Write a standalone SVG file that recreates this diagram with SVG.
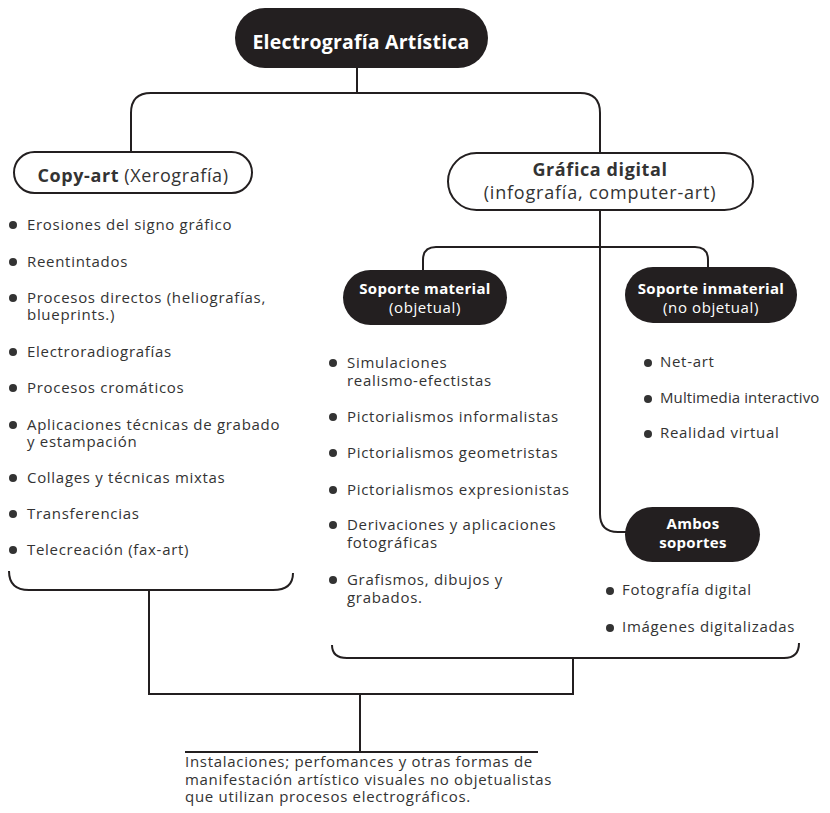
<svg xmlns="http://www.w3.org/2000/svg" width="830" height="813" viewBox="0 0 830 813">
<style>
text{font-family:"Open Sans","Liberation Sans",sans-serif;}
.t{font-size:15px;fill:#333;letter-spacing:0.7px;}
.b{fill:#333;}
.dark{fill:#231f20;}
.light{fill:#fff;stroke:#231f20;stroke-width:2;}
.wb{fill:#fff;font-weight:700;}
.w{fill:#fff;}
.k{fill:#333;}
.kb{fill:#333;font-weight:700;}
.c{fill:none;stroke:#231f20;stroke-width:2;}
</style>
<rect width="830" height="813" fill="#fff"/>
<g id="connectors">
<path class="c" d="M357,68 V93"/>
<path class="c" d="M131,152 V113 Q131,93 151,93 H580 Q600,93 600,113 V153"/>
<path class="c" d="M600,210 V514 Q600,532 618,532 H626"/>
<path class="c" d="M423,270 V260 Q423,247 436,247 H695 Q708,247 708,260 V267"/>
<path class="c" d="M9,571 Q9,590 29,590 H273 Q293,590 293,573"/>
<path class="c" d="M149,590 V694 H573 V658"/>
<path class="c" d="M332,645 Q332,658 347,658 H784 Q799,658 799,643"/>
<path class="c" d="M360,694 V752"/>
<path class="c" d="M185,752 H538"/>
</g>
<g id="root">
<rect class="dark" x="235" y="8" width="253" height="60" rx="30"/>
<text class="wb" x="361" y="49" font-size="19.5" text-anchor="middle" letter-spacing="0.2">Electrografía Artística</text>
</g>
<g id="copyart">
<rect class="light" x="14" y="152" width="238" height="41" rx="20.5"/>
<text x="133" y="182" font-size="18" text-anchor="middle" letter-spacing="0.6"><tspan class="kb">Copy-art</tspan><tspan class="k"> (Xerografía)</tspan></text>
</g>
<g id="copyart-list">
<g class="b"><circle cx="13" cy="225" r="4"/><circle cx="13" cy="262" r="4"/><circle cx="13" cy="298" r="4"/><circle cx="13" cy="352" r="4"/><circle cx="13" cy="388" r="4"/><circle cx="13" cy="425" r="4"/><circle cx="13" cy="478" r="4"/><circle cx="13" cy="514" r="4"/><circle cx="13" cy="550" r="4"/></g>
<text class="t" x="27" y="230">Erosiones del signo gráfico</text>
<text class="t" x="27" y="267">Reentintados</text>
<text class="t" x="27" y="303">Procesos directos (heliografías,</text>
<text class="t" x="27" y="320">blueprints.)</text>
<text class="t" x="27" y="357">Electroradiografías</text>
<text class="t" x="27" y="393">Procesos cromáticos</text>
<text class="t" x="27" y="430">Aplicaciones técnicas de grabado</text>
<text class="t" x="27" y="447">y estampación</text>
<text class="t" x="27" y="483">Collages y técnicas mixtas</text>
<text class="t" x="27" y="519">Transferencias</text>
<text class="t" x="27" y="555">Telecreación (fax-art)</text>
</g>
<g id="grafica">
<rect class="light" x="448" y="153" width="305" height="57" rx="28.5"/>
<text class="kb" x="600" y="176" font-size="18" text-anchor="middle" letter-spacing="0.6">Gráfica digital</text>
<text class="k" x="600" y="199" font-size="18" text-anchor="middle" letter-spacing="0.8">(infografía, computer-art)</text>
</g>
<g id="material">
<rect class="dark" x="343" y="270" width="164" height="55" rx="27.5"/>
<text class="wb" x="425" y="294" font-size="15" text-anchor="middle" letter-spacing="0.3">Soporte material</text>
<text class="w" x="425" y="313" font-size="15" text-anchor="middle" letter-spacing="0.6">(objetual)</text>
</g>
<g id="material-list">
<g class="b"><circle cx="333" cy="363" r="4"/><circle cx="333" cy="417" r="4"/><circle cx="333" cy="453" r="4"/><circle cx="333" cy="490" r="4"/><circle cx="333" cy="525" r="4"/><circle cx="333" cy="580" r="4"/></g>
<text class="t" x="347" y="368">Simulaciones</text>
<text class="t" x="347" y="386">realismo-efectistas</text>
<text class="t" x="347" y="422">Pictorialismos informalistas</text>
<text class="t" x="347" y="458">Pictorialismos geometristas</text>
<text class="t" x="347" y="495">Pictorialismos expresionistas</text>
<text class="t" x="347" y="530">Derivaciones y aplicaciones</text>
<text class="t" x="347" y="548">fotográficas</text>
<text class="t" x="347" y="585">Grafismos, dibujos y</text>
<text class="t" x="347" y="603">grabados.</text>
</g>
<g id="inmaterial">
<rect class="dark" x="625" y="267" width="172" height="56" rx="28"/>
<text class="wb" x="711" y="294" font-size="15" text-anchor="middle" letter-spacing="0.3">Soporte inmaterial</text>
<text class="w" x="711" y="313" font-size="15" text-anchor="middle" letter-spacing="0.6">(no objetual)</text>
</g>
<g id="inmaterial-list">
<g class="b"><circle cx="648" cy="363" r="4"/><circle cx="648" cy="399" r="4"/><circle cx="648" cy="434" r="4"/></g>
<text class="t" x="660" y="367">Net-art</text>
<text class="t" x="660" y="403" style="letter-spacing:0.1px">Multimedia interactivo</text>
<text class="t" x="660" y="438">Realidad virtual</text>
</g>
<g id="ambos">
<rect class="dark" x="625" y="507" width="135" height="55" rx="27.5"/>
<text class="wb" x="693" y="529" font-size="15" text-anchor="middle" letter-spacing="0.3">Ambos</text>
<text class="wb" x="693" y="548" font-size="15" text-anchor="middle" letter-spacing="0.3">soportes</text>
</g>
<g id="ambos-list">
<g class="b"><circle cx="610" cy="591" r="4"/><circle cx="610" cy="628" r="4"/></g>
<text class="t" x="622" y="595">Fotografía digital</text>
<text class="t" x="622" y="632">Imágenes digitalizadas</text>
</g>
<g id="instalaciones">
<text class="t" x="185" y="767">Instalaciones; perfomances y otras formas de</text>
<text class="t" x="185" y="785">manifestación artístico visuales no objetualistas</text>
<text class="t" x="185" y="802">que utilizan procesos electrográficos.</text>
</g>
</svg>
